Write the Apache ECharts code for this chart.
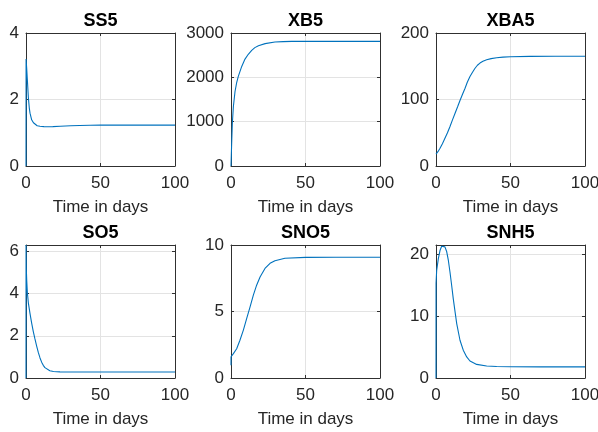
<!DOCTYPE html>
<html>
<head>
<meta charset="utf-8">
<script src="https://cdn.jsdelivr.net/npm/echarts@6/dist/echarts.min.js"></script>
<style>
  html, body { margin: 0; padding: 0; background: #fff; }
  #chart { width: 598px; height: 432px; }
</style>
</head>
<body>
<div id="chart"></div>
<script>
// values, time in days
var ss5_t  = [0, 0.05, 0.45, 0.9, 1.6, 2.2, 2.7, 3.8, 5, 6, 7.5, 9.4, 12, 14, 18, 23, 30, 36, 43, 50, 60, 75, 100];
var ss5_v  = [0, 3.22, 2.95, 2.6, 2.05, 1.75, 1.59, 1.39, 1.3, 1.24, 1.21, 1.195, 1.185, 1.18, 1.185, 1.195, 1.21, 1.22, 1.225, 1.23, 1.23, 1.23, 1.23];

var xb5_t  = [0, 0.45, 0.9, 1.6, 2.7, 3.8, 4.9, 7.2, 9.4, 11.6, 13.9, 16, 18.4, 22.9, 29.5, 35, 40.7, 50, 60, 80, 100];
var xb5_v  = [0, 513, 965, 1342, 1681, 1880, 2020, 2246, 2412, 2520, 2608, 2670, 2714, 2760, 2797, 2806, 2810, 2812, 2812, 2812, 2812];

var xba5_t = [0, 1.3, 2.7, 4.3, 6, 7.7, 9.4, 11, 12.8, 14.5, 16.1, 17.8, 19.5, 21, 22.8, 24.5, 26.2, 27.8, 29.5, 31.5, 34, 37, 40.7, 45, 50, 63, 80, 100];
var xba5_v = [18, 21.5, 26.6, 33.5, 41.7, 50, 59.3, 69, 79.4, 89, 98.5, 108, 117, 126, 134.7, 141, 147, 151.5, 154.8, 157.5, 159.8, 161.5, 162.8, 163.7, 164.3, 164.8, 165, 165];

var so5_t  = [0, 0.03, 0.2, 0.5, 0.9, 1.6, 2.7, 3.8, 4.9, 6, 7.2, 8.3, 9.4, 10.5, 11.6, 12.7, 13.9, 16, 18.4, 22.8, 30, 50, 100];
var so5_v  = [0, 6.3, 5.2, 4.6, 4.05, 3.55, 3.05, 2.6, 2.2, 1.85, 1.5, 1.2, 0.95, 0.75, 0.6, 0.49, 0.41, 0.34, 0.31, 0.29, 0.285, 0.285, 0.285];

var sno5_t = [0, 0.03, 1.6, 3.8, 6, 8.3, 10.5, 12.8, 15, 17.2, 19.5, 22.8, 26.2, 29.5, 36.2, 50, 70, 100];
var sno5_v = [0.95, 1.6, 1.83, 2.2, 2.84, 3.6, 4.47, 5.35, 6.23, 6.98, 7.6, 8.24, 8.62, 8.82, 9.0, 9.07, 9.08, 9.08];

var snh5_t = [0, 0.03, 0.45, 1.57, 2.68, 3.8, 4.9, 6.0, 7.2, 8.3, 9.4, 10.5, 11.6, 12.8, 13.9, 16.1, 18.3, 20.6, 22.8, 27.3, 34, 40.7, 50, 70, 100];
var snh5_v = [0, 15.3, 17.4, 19.3, 20.6, 21.3, 21.46, 21.2, 20.4, 19.0, 17.1, 15.0, 12.8, 10.7, 8.8, 6.1, 4.5, 3.4, 2.75, 2.2, 1.94, 1.87, 1.83, 1.8, 1.8];

// subplot titles and y ranges (max, tick step)
var titles    = ['SS5', 'XB5', 'XBA5', 'SO5', 'SNO5', 'SNH5'];
var yMax      = [4, 3000, 200, 6.3, 10, 21.5];
var yStep     = [2, 1000, 100, 2, 5, 10];
var xTicks    = [0, 50, 100];
var xName     = 'Time in days';

var panels = [
    {t: ss5_t, v: ss5_v},
    {t: xb5_t, v: xb5_v},
    {t: xba5_t, v: xba5_v},
    {t: so5_t, v: so5_v},
    {t: sno5_t, v: sno5_v},
    {t: snh5_t, v: snh5_v}
];

// layout
var colLeft = [26, 231, 436];
var rowTop = [33, 245];
var W = 149, H = 133;
var FONT = '"Liberation Sans", Arial, Helvetica, sans-serif';
var axisColor = '#303030';
var gridColor = '#e3e3e3';
var textColor = '#262626';
var lineColor = '#0072BD';

var grids = [], xAxes = [], yAxes = [], series = [], graphics = [];

panels.forEach(function (p, i) {
    var left = colLeft[i % 3];
    var top = rowTop[Math.floor(i / 3)];
    var step = yStep[i];
    grids.push({left: left, top: top, width: W, height: H, outerBoundsMode: 'none'});

    var line = {show: true, onZero: false, lineStyle: {color: axisColor, width: 1}};
    var tick = {show: true, inside: true, length: 3, lineStyle: {color: axisColor, width: 1}};

    // bottom x axis with labels
    xAxes.push({
        type: 'value', gridIndex: i, position: 'bottom',
        min: xTicks[0], max: xTicks[xTicks.length - 1], interval: xTicks[1] - xTicks[0],
        axisLine: line, axisTick: tick,
        axisLabel: {fontSize: 17, color: textColor, fontFamily: FONT, margin: 9},
        splitLine: {show: true, lineStyle: {color: gridColor, width: 1}},
        name: xName, nameLocation: 'middle', nameGap: 33,
        nameTextStyle: {fontSize: 17, color: textColor, fontFamily: FONT}
    });
    // top x axis, just for the box
    xAxes.push({
        type: 'value', gridIndex: i, position: 'top',
        min: xTicks[0], max: xTicks[xTicks.length - 1], interval: xTicks[1] - xTicks[0],
        axisLine: line, axisTick: tick,
        axisLabel: {show: false}, splitLine: {show: false}
    });
    // left y axis with labels
    yAxes.push({
        type: 'value', gridIndex: i, position: 'left',
        min: 0, max: yMax[i], interval: step,
        axisLine: line, axisTick: tick,
        axisLabel: {
            fontSize: 17, color: textColor, fontFamily: FONT, margin: 7,
            formatter: function (val) { return (val % step === 0) ? String(val) : ''; }
        },
        splitLine: {show: true, lineStyle: {color: gridColor, width: 1}}
    });
    // right y axis, box only
    yAxes.push({
        type: 'value', gridIndex: i, position: 'right',
        min: 0, max: yMax[i], interval: step,
        axisLine: line, axisTick: tick,
        axisLabel: {show: false}, splitLine: {show: false}
    });

    series.push({
        type: 'line', xAxisIndex: 2 * i, yAxisIndex: 2 * i,
        showSymbol: false, symbol: 'none',
        lineStyle: {color: lineColor, width: 1.1},
        data: p.t.map(function (x, j) { return [x, p.v[j]]; })
    });

    graphics.push({
        type: 'text', x: left + W / 2, y: top - 12,
        style: {
            text: titles[i], fill: '#000', fontSize: 18, fontWeight: 'bold',
            fontFamily: FONT, align: 'center', verticalAlign: 'middle'
        }
    });
});

var myChart = echarts.init(document.getElementById('chart'));
myChart.setOption({
    animation: false,
    backgroundColor: '#fff',
    grid: grids,
    xAxis: xAxes,
    yAxis: yAxes,
    series: series,
    graphic: graphics
});
</script>
</body>
</html>
